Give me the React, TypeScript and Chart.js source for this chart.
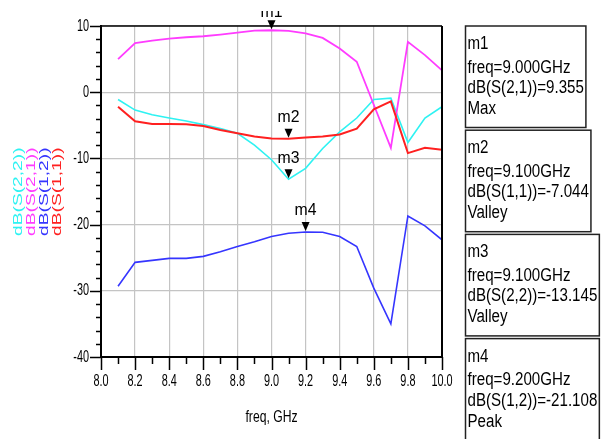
import { useEffect, useRef } from 'react';
import { Chart, registerables } from 'chart.js';

Chart.register(...registerables);

// ---------- data ----------
const freqs = [8.1, 8.2, 8.3, 8.4, 8.5, 8.6, 8.7, 8.8, 8.9, 9.0, 9.1, 9.2, 9.3, 9.4, 9.5, 9.6, 9.7, 9.8, 9.9, 10.0];
const s22 = [-1.1, -2.7, -3.4, -3.9, -4.35, -4.9, -5.5, -6.2, -8.0, -10.2, -13.145, -11.5, -8.5, -6.0, -3.9, -1.1, -0.9, -7.6, -3.9, -2.2];
const s21 = [5.0, 7.4, 7.8, 8.1, 8.3, 8.45, 8.7, 9.0, 9.3, 9.355, 9.25, 8.9, 8.2, 6.6, 4.6, -1.9, -8.4, 7.6, 5.6, 3.3];
const s12 = [-29.3, -25.7, -25.4, -25.1, -25.1, -24.8, -24.1, -23.3, -22.6, -21.8, -21.3, -21.108, -21.15, -21.8, -23.3, -29.6, -35.0, -18.7, -20.2, -22.3];
const s11 = [-2.2, -4.4, -4.8, -4.8, -4.85, -5.1, -5.7, -6.2, -6.7, -7.0, -7.044, -6.85, -6.7, -6.4, -5.5, -2.6, -1.4, -9.2, -8.4, -8.7];

const xTickLabels = ['8.0', '8.2', '8.4', '8.6', '8.8', '9.0', '9.2', '9.4', '9.6', '9.8', '10.0'];
const yTickLabels = ['10', '0', '-10', '-20', '-30', '-40'];
const xTitle = 'freq, GHz';

const legendLabels = ['dB(S(2,2))', 'dB(S(2,1))', 'dB(S(1,2))', 'dB(S(1,1))'];
const legendColors = ['#2ef2f2', '#ff3cff', '#3535ff', '#ff2020'];

const markerNames = ['m1', 'm2', 'm3', 'm4'];
const markerFreqs = [9.0, 9.1, 9.1, 9.2];
const markerTraces = ['dB(S(2,1))', 'dB(S(1,1))', 'dB(S(2,2))', 'dB(S(1,2))'];
const markerValues = [9.355, -7.044, -13.145, -21.108];
const markerKinds = ['Max', 'Valley', 'Valley', 'Peak'];

const FONT = '"Liberation Sans", Arial, sans-serif';

function condText(ctx: CanvasRenderingContext2D, text: string, x: number, y: number, sx: number, align: CanvasTextAlign) {
  ctx.save();
  ctx.translate(x, y);
  ctx.scale(sx, 1);
  ctx.textAlign = align;
  ctx.fillText(text, 0, 0);
  ctx.restore();
}

const decorPlugin = {
  id: 'adsDecor',
  afterDraw(chart: any) {
    const ctx: CanvasRenderingContext2D = chart.ctx;
    const xs = chart.scales.x;
    const ys = chart.scales.y;
    const { left, right, top, bottom } = chart.chartArea;
    ctx.save();
    ctx.strokeStyle = '#000';
    ctx.fillStyle = '#000';

    // frame top/right
    ctx.lineWidth = 1.5;
    ctx.beginPath();
    ctx.moveTo(left, top);
    ctx.lineTo(right, top);
    ctx.stroke();
    ctx.lineWidth = 2;
    ctx.beginPath();
    ctx.moveTo(right, top);
    ctx.lineTo(right, bottom);
    ctx.stroke();

    // ticks
    ctx.lineWidth = 1.5;
    for (let v = -40; v <= 10; v += 2) {
      const py = Math.round(ys.getPixelForValue(v)) + 0.5;
      const len = v % 10 === 0 ? 11 : 5;
      ctx.beginPath();
      ctx.moveTo(left - len, py);
      ctx.lineTo(left, py);
      ctx.stroke();
    }
    for (let i = 0; i <= 20; i++) {
      const v = 8 + i * 0.1;
      const px = Math.round(xs.getPixelForValue(v)) + 0.5;
      const len = i % 2 === 0 ? 13 : 7;
      ctx.beginPath();
      ctx.moveTo(px, bottom);
      ctx.lineTo(px, bottom + len);
      ctx.stroke();
    }

    // tick labels
    ctx.font = `17px ${FONT}`;
    ctx.textBaseline = 'middle';
    yTickLabels.forEach((l) => {
      condText(ctx, l, left - 12, ys.getPixelForValue(parseFloat(l)), 0.64, 'right');
    });
    xTickLabels.forEach((l) => {
      condText(ctx, l, xs.getPixelForValue(parseFloat(l)), 381, 0.64, 'center');
    });

    // x title
    ctx.font = `16px ${FONT}`;
    ctx.textBaseline = 'alphabetic';
    condText(ctx, xTitle, (left + right) / 2, 422, 0.76, 'center');

    // legend (rotated)
    ctx.font = `12px ${FONT}`;
    ctx.textBaseline = 'middle';
    legendLabels.forEach((l, i) => {
      ctx.save();
      ctx.fillStyle = legendColors[i];
      ctx.translate(19 + i * 13, 236);
      ctx.rotate(-Math.PI / 2);
      ctx.scale(1.6, 1);
      ctx.textAlign = 'left';
      ctx.fillText(l, 0, 0);
      ctx.restore();
    });

    // marker boxes
    ctx.font = `18px ${FONT}`;
    ctx.textBaseline = 'alphabetic';
    const bsx = 0.84;
    markerNames.forEach((name, i) => {
      const lines = [
        name,
        `freq=${markerFreqs[i].toFixed(3)}GHz`,
        `${markerTraces[i]}=${markerValues[i].toFixed(3)}`,
        markerKinds[i],
      ];
      const w = Math.max(...lines.map((s) => ctx.measureText(s).width)) * bsx + 4;
      const bx = 465.5;
      const by = 26 + i * 104.2;
      ctx.lineWidth = 1.5;
      ctx.strokeStyle = '#222';
      ctx.strokeRect(bx, by, w, 101.5);
      ctx.fillStyle = '#000';
      const offs = [23, 46.5, 67, 88];
      lines.forEach((s, j) => condText(ctx, s, bx + 2, by + offs[j], bsx, 'left'));
    });

    // markers on traces
    ctx.fillStyle = '#000';
    markerNames.forEach((name, i) => {
      const px = xs.getPixelForValue(markerFreqs[i]);
      const py = ys.getPixelForValue(markerValues[i]);
      ctx.beginPath();
      ctx.moveTo(px - 4, py - 10);
      ctx.lineTo(px + 4, py - 10);
      ctx.lineTo(px, py - 1);
      ctx.closePath();
      ctx.fill();
      ctx.save();
      ctx.beginPath();
      ctx.rect(0, 11, chart.width, chart.height);
      ctx.clip();
      ctx.font = `17px ${FONT}`;
      const base = Math.max(py - 16.5, 17);
      condText(ctx, name, px, base, 0.93, 'center');
      ctx.restore();
    });

    ctx.restore();
  },
};

export default function App() {
  const ref = useRef<HTMLCanvasElement | null>(null);
  useEffect(() => {
    if (!ref.current) return;
    const mk = (vals: number[], color: string, width: number) => ({
      data: freqs.map((f, i) => ({ x: f, y: vals[i] })),
      borderColor: color,
      backgroundColor: color,
      borderWidth: width,
      pointRadius: 0,
      tension: 0,
      fill: false,
    });
    const chart = new Chart(ref.current, {
      type: 'line',
      data: {
        datasets: [
          { label: legendLabels[3], ...mk(s11, legendColors[3], 2) },
          { label: legendLabels[2], ...mk(s12, legendColors[2], 1.6) },
          { label: legendLabels[1], ...mk(s21, legendColors[1], 1.8) },
          { label: legendLabels[0], ...mk(s22, legendColors[0], 1.6) },
        ],
      },
      options: {
        responsive: false,
        animation: false,
        events: [],
        layout: { padding: { left: 0, top: 26, right: 166, bottom: 0 } },
        plugins: { legend: { display: false }, tooltip: { enabled: false }, title: { display: false } },
        scales: {
          x: {
            type: 'linear',
            min: 8,
            max: 10,
            ticks: { display: false, stepSize: 0.2 },
            grid: { color: '#c4c4c4', lineWidth: 1.2, drawTicks: false },
            border: { color: '#000', width: 2 },
            afterFit: (s: any) => { s.height = 82; },
          },
          y: {
            type: 'linear',
            min: -40,
            max: 10,
            ticks: { display: false, stepSize: 10 },
            grid: { color: '#c4c4c4', lineWidth: 1.2, drawTicks: false },
            border: { color: '#000', width: 2 },
            afterFit: (s: any) => { s.width = 101; },
          },
        },
      },
      plugins: [decorPlugin],
    } as any);
    return () => chart.destroy();
  }, []);
  return (
    <div style={{ position: 'absolute', left: 0, top: 0, width: 608, height: 439, background: '#fff' }}>
      <canvas ref={ref} width={608} height={439} />
    </div>
  );
}
